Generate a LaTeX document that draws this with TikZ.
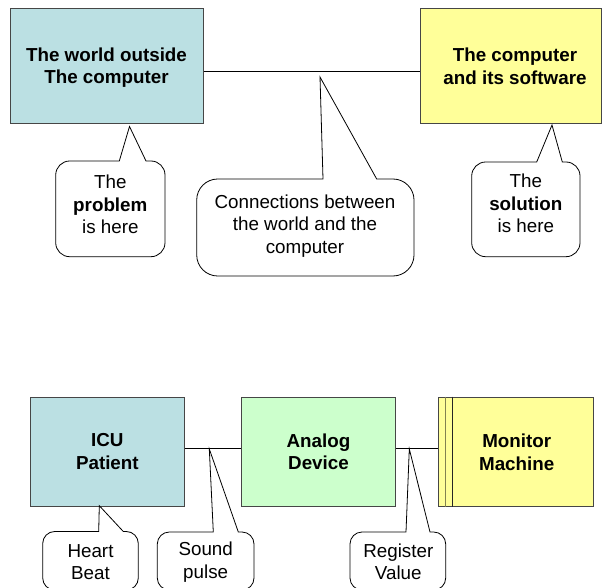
\documentclass[tikz,border=0pt]{standalone}
\usepackage{fontspec}
\setmainfont{Liberation Sans}
\definecolor{cyanbox}{RGB}{187,224,227}
\definecolor{yelbox}{RGB}{255,255,153}
\definecolor{grnbox}{RGB}{204,255,204}
\definecolor{edgegray}{RGB}{70,70,70}
\definecolor{olivegray}{RGB}{130,130,80}
% L T R B r x1 x2 tip   (corners drawn as circular-like cubic arcs)
\newcommand\mybubble[8]{%
  \draw[bubble] (#6,#2) -- (#8) -- (#7,#2) -- ({#3-#5},#2)
    .. controls ({#3-0.448*#5},#2) and (#3,{#2+0.448*#5}) .. (#3,{#2+#5})
    -- (#3,{#4-#5})
    .. controls (#3,{#4-0.448*#5}) and ({#3-0.448*#5},#4) .. ({#3-#5},#4)
    -- ({#1+#5},#4)
    .. controls ({#1+0.448*#5},#4) and (#1,{#4-0.448*#5}) .. (#1,{#4-#5})
    -- (#1,{#2+#5})
    .. controls (#1,{#2+0.448*#5}) and ({#1+0.448*#5},#2) .. ({#1+#5},#2) -- cycle;}
\begin{document}
\begin{tikzpicture}[x=1pt,y=-1pt,
  box/.style={draw=edgegray, line width=1pt, inner sep=0pt, anchor=north west,
    font=\fontsize{18.8}{22.5}\selectfont\bfseries, align=center},
  txt/.style={inner sep=0pt, align=center, font=\fontsize{18.8}{22.5}\selectfont},
  btxt/.style={txt, font=\fontsize{18.8}{22.5}\selectfont\bfseries},
  bubble/.style={draw=black, fill=white, line width=0.8pt, line join=miter},
  wire/.style={draw=black, line width=0.8pt}]
\useasboundingbox (0,0) rectangle (602,588);

% ---------- top part ----------
\node[box, fill=cyanbox, minimum width=192.7pt, minimum height=115pt] (b1) at (10,7.7) {};
\node[btxt] (t1) at (106.5,67.5) {The world outside\\The computer};
\node[box, fill=yelbox, minimum width=181pt, minimum height=115pt] (b2) at (420,7.7) {};
\node[btxt] (t2) at (515,66.5) {The computer\\and its software};

\coordinate (ya) at (0,71);
\draw[wire] (b1.east |- ya) -- (b2.west |- ya);

\coordinate (tp1) at (129.5,126.5);
\coordinate (tp2) at (320,77);
\coordinate (tp3) at (552,125);

\mybubble{55.7}{161}{165}{256.7}{14}{119.3}{146}{tp1}
\mybubble{196.7}{179}{414}{276}{21}{323}{376.7}{tp2}
\mybubble{471.7}{162}{580}{256.7}{14}{536.7}{562.3}{tp3}

\node[txt] (c1) at (110.3,204.3) {The\\\textbf{problem}\\is here};
\node[txt] (c2) at (305,226) {Connections between\\the world and the\\computer};
\node[txt] (c3) at (525.8,203.6) {The\\\textbf{solution}\\is here};

% ---------- bottom part ----------
\node[box, fill=cyanbox, minimum width=153.7pt, minimum height=109pt] (b3) at (30,396.7)
  {ICU\\Patient};
\node[box, fill=grnbox, minimum width=154pt, minimum height=109pt] (b4) at (241,396.7)
  {Analog\\Device};
\node[box, fill=yelbox, minimum width=155pt, minimum height=109pt] (b5) at (438.3,396.7) {};
\node[btxt] (t5) at (516.7,452.3) {Monitor\\Machine};
\draw[olivegray, line width=0.9pt] ([xshift=7.4pt]b5.north west) -- ([xshift=7.4pt]b5.south west);
\draw[black!85, line width=0.9pt] ([xshift=13.7pt]b5.north west) -- ([xshift=13.7pt]b5.south west);

\coordinate (yb) at (0,448.3);
\draw[wire] (b3.east |- yb) -- (b4.west |- yb);
\draw[wire] (b4.east |- yb) -- (b5.west |- yb);

\coordinate (tp4) at (99.3,505.7);
\coordinate (tp5) at (209.3,449);
\coordinate (tp6) at (409.3,449);

\mybubble{42.7}{531.5}{138.3}{590}{12}{98.7}{123.3}{tp4}
\mybubble{157.3}{532}{254}{590}{12}{213.3}{238.3}{tp5}
\mybubble{350}{532}{445.7}{590}{12}{406}{430}{tp6}

\node[txt] (c4) at (90.5,562.3) {Heart\\Beat};
\node[txt] (c5) at (205.7,562) {Sound\\pulse};
\node[txt] (c6) at (398.3,562) {Register\\Value};
\end{tikzpicture}
\end{document}
